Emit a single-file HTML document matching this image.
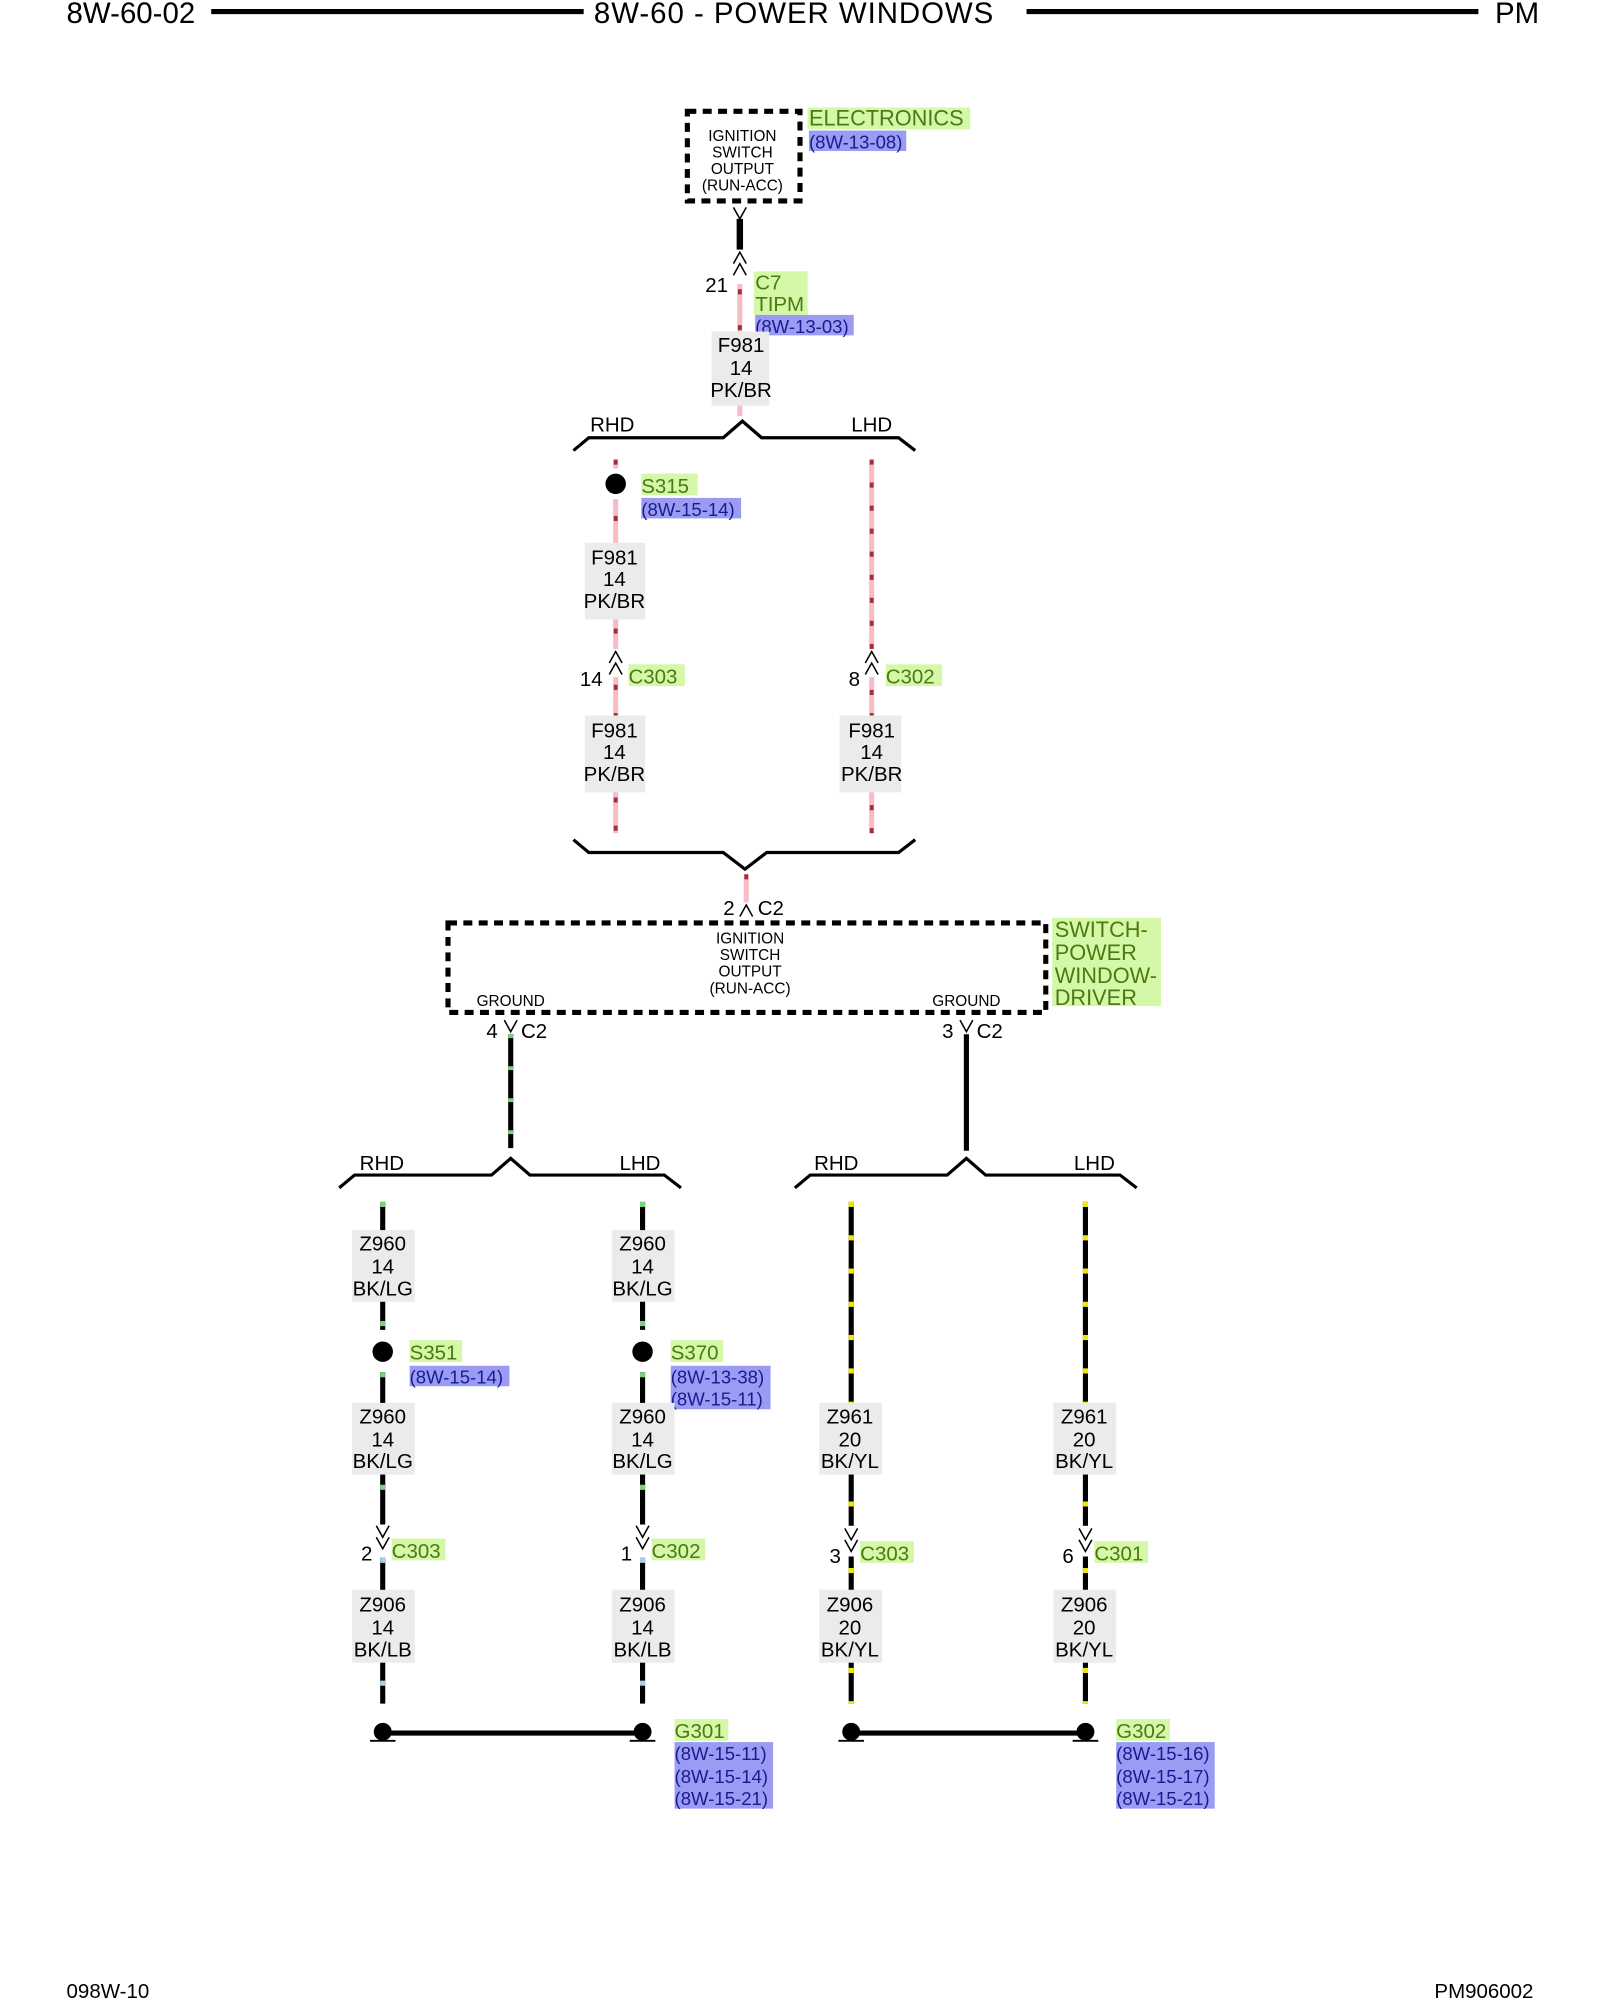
<!DOCTYPE html>
<html><head><meta charset="utf-8"><style>
html,body{margin:0;padding:0;background:#fff;}
svg{display:block;}
text{font-family:"Liberation Sans",Arial,sans-serif;}
</style></head><body>
<svg width="1600" height="2000" viewBox="0 0 1250 1562.5" xmlns="http://www.w3.org/2000/svg">
<rect width="1250" height="1563" fill="#fff"/>
<!-- header -->
<g font-size="23" fill="#000">
<text x="52" y="18">8W-60-02</text>
<text x="620" y="18" text-anchor="middle" textLength="312">8W-60 - POWER WINDOWS</text>
<text x="1168" y="18">PM</text>
</g>
<line x1="165" y1="9" x2="456" y2="9" stroke="#000" stroke-width="4"/>
<line x1="802" y1="9" x2="1155" y2="9" stroke="#000" stroke-width="4"/>

<!-- top box -->
<rect x="537" y="87" width="88" height="70" fill="none" stroke="#000" stroke-width="4" stroke-dasharray="7,5"/>
<g font-size="12" text-anchor="middle">
<text x="580" y="110">IGNITION</text><text x="580" y="123">SWITCH</text><text x="580" y="136">OUTPUT</text><text x="580" y="149">(RUN-ACC)</text>
</g>
<rect x="631" y="84" width="127" height="17" fill="#d4f8a8"/>
<text x="632" y="98" font-size="17" fill="#4a7a10">ELECTRONICS</text>
<rect x="632" y="102" width="76" height="16" fill="#9a9cf4"/>
<text x="632" y="116" font-size="14.5" fill="#1a1a90">(8W-13-08)</text>

<!-- top connector -->
<path d="M573 162 L578 171 L583 162" fill="none" stroke="#000" stroke-width="1.2"/>
<line x1="578" y1="171" x2="578" y2="195" stroke="#000" stroke-width="5"/>
<path d="M573 206 L578 197 L583 206 M573 215 L578 206 L583 215" fill="none" stroke="#000" stroke-width="1.2"/>
<text x="551" y="228" font-size="16">21</text>
<rect x="589" y="212" width="42" height="34" fill="#d4f8a8"/>
<text x="590" y="226" font-size="16" fill="#4a7a10">C7</text>
<text x="590" y="243" font-size="16" fill="#4a7a10">TIPM</text>
<rect x="590" y="246" width="77" height="16" fill="#9a9cf4"/>
<text x="590" y="260" font-size="14.5" fill="#1a1a90">(8W-13-03)</text>

<line x1="578" y1="222" x2="578" y2="325" stroke="#f7bcc6" stroke-width="4"/>
<line x1="578" y1="226" x2="578" y2="325" stroke="#a0303a" stroke-width="3" stroke-dasharray="4,24"/>
<rect x="556" y="259" width="45" height="58" fill="#ebebeb"/>
<g font-size="16" text-anchor="middle"><text x="579" y="275">F981</text><text x="579" y="293">14</text><text x="579" y="310">PK/BR</text></g>

<!-- bracket 1 -->
<path d="M448 352 L460 342 L565 342 L580 329 L595 342 L702 342 L715 352" fill="none" stroke="#000" stroke-width="2.5"/>
<text x="461" y="337" font-size="16">RHD</text><text x="665" y="337" font-size="16">LHD</text>

<line x1="481" y1="359" x2="481" y2="651" stroke="#f7bcc6" stroke-width="4"/>
<line x1="481" y1="359" x2="481" y2="651" stroke="#a0303a" stroke-width="3" stroke-dasharray="4,18"/>
<line x1="681" y1="359" x2="681" y2="651" stroke="#f7bcc6" stroke-width="4"/>
<line x1="681" y1="359" x2="681" y2="651" stroke="#a0303a" stroke-width="3" stroke-dasharray="4,14"/>
<rect x="469" y="366" width="24" height="24" fill="#fff"/>
<circle cx="481" cy="378" r="8" fill="#000"/>
<rect x="501" y="370" width="44" height="17" fill="#d4f8a8"/>
<text x="501" y="385" font-size="16" fill="#4a7a10">S315</text>
<rect x="501" y="389" width="78" height="16" fill="#9a9cf4"/>
<text x="501" y="403" font-size="14.5" fill="#1a1a90">(8W-15-14)</text>
<rect x="457" y="424" width="47" height="60" fill="#ebebeb"/>
<g font-size="16" text-anchor="middle"><text x="480" y="441">F981</text><text x="480" y="458">14</text><text x="480" y="475">PK/BR</text></g>
<rect x="475" y="507" width="12" height="22" fill="#fff"/>
<rect x="675" y="507" width="12" height="22" fill="#fff"/>
<path d="M476 518 L481 509 L486 518 M476 527 L481 518 L486 527" fill="none" stroke="#000" stroke-width="1.2"/>
<path d="M676 518 L681 509 L686 518 M676 527 L681 518 L686 527" fill="none" stroke="#000" stroke-width="1.2"/>
<text x="453" y="536" font-size="16">14</text>
<rect x="491" y="519" width="44" height="17" fill="#d4f8a8"/>
<text x="491" y="534" font-size="16" fill="#4a7a10">C303</text>
<text x="663" y="536" font-size="16">8</text>
<rect x="692" y="519" width="44" height="17" fill="#d4f8a8"/>
<text x="692" y="534" font-size="16" fill="#4a7a10">C302</text>
<rect x="457" y="559" width="47" height="60" fill="#ebebeb"/>
<g font-size="16" text-anchor="middle"><text x="480" y="576">F981</text><text x="480" y="593">14</text><text x="480" y="610">PK/BR</text></g>
<rect x="656" y="559" width="48" height="60" fill="#ebebeb"/>
<g font-size="16" text-anchor="middle"><text x="681" y="576">F981</text><text x="681" y="593">14</text><text x="681" y="610">PK/BR</text></g>

<!-- bracket 2 -->
<path d="M448 656 L460 666 L565 666 L582 679 L599 666 L702 666 L715 656" fill="none" stroke="#000" stroke-width="2.5"/>
<line x1="583" y1="683" x2="583" y2="705" stroke="#f7bcc6" stroke-width="4"/>
<line x1="583" y1="683" x2="583" y2="705" stroke="#a0303a" stroke-width="3" stroke-dasharray="4,30"/>
<path d="M578 716 L583 707 L588 716" fill="none" stroke="#000" stroke-width="1.2"/>
<text x="565" y="715" font-size="16">2</text><text x="592" y="715" font-size="16">C2</text>

<!-- switch box -->
<rect x="350" y="721" width="467" height="70" fill="none" stroke="#000" stroke-width="4" stroke-dasharray="7,5"/>
<g font-size="12" text-anchor="middle">
<text x="586" y="737">IGNITION</text><text x="586" y="750">SWITCH</text><text x="586" y="763">OUTPUT</text><text x="586" y="776">(RUN-ACC)</text>
<text x="399" y="786">GROUND</text><text x="755" y="786">GROUND</text>
</g>
<rect x="822" y="717" width="85" height="69" fill="#d4f8a8"/>
<g font-size="17" fill="#4a7a10"><text x="824" y="732">SWITCH-</text><text x="824" y="750">POWER</text><text x="824" y="768">WINDOW-</text><text x="824" y="785">DRIVER</text></g>
<path d="M394 797 L399 806 L404 797" fill="none" stroke="#000" stroke-width="1.2"/>
<path d="M750 797 L755 806 L760 797" fill="none" stroke="#000" stroke-width="1.2"/>
<text x="380" y="811" font-size="16">4</text><text x="407" y="811" font-size="16">C2</text>
<text x="736" y="811" font-size="16">3</text><text x="763" y="811" font-size="16">C2</text>
<line x1="399" y1="808" x2="399" y2="897" stroke="#000" stroke-width="4"/>
<line x1="399" y1="808" x2="399" y2="897" stroke="#7ed07e" stroke-width="4" stroke-dasharray="3,22"/>
<line x1="755" y1="808" x2="755" y2="899" stroke="#000" stroke-width="4"/>

<!-- brackets 3 -->
<path d="M265 928 L277 918 L384 918 L399 905 L414 918 L519 918 L532 928" fill="none" stroke="#000" stroke-width="2.5"/>
<path d="M621 928 L633 918 L740 918 L755 905 L770 918 L875 918 L888 928" fill="none" stroke="#000" stroke-width="2.5"/>
<g font-size="16"><text x="281" y="914">RHD</text><text x="484" y="914">LHD</text><text x="636" y="914">RHD</text><text x="839" y="914">LHD</text></g>

<g stroke-width="4">
<line x1="299" y1="939" x2="299" y2="1039" stroke="#000"/><line x1="299" y1="939" x2="299" y2="1039" stroke="#7ed07e" stroke-dasharray="4,27"/>
<line x1="502" y1="939" x2="502" y2="1039" stroke="#000"/><line x1="502" y1="939" x2="502" y2="1039" stroke="#7ed07e" stroke-dasharray="4,27"/>
<line x1="299" y1="1072" x2="299" y2="1191" stroke="#000"/><line x1="299" y1="1072" x2="299" y2="1191" stroke="#7ed07e" stroke-dasharray="4,40"/>
<line x1="502" y1="1072" x2="502" y2="1191" stroke="#000"/><line x1="502" y1="1072" x2="502" y2="1191" stroke="#7ed07e" stroke-dasharray="4,40"/>
<line x1="299" y1="1217" x2="299" y2="1331" stroke="#000"/><line x1="299" y1="1217" x2="299" y2="1331" stroke="#a8d0e0" stroke-dasharray="4,28"/>
<line x1="502" y1="1217" x2="502" y2="1331" stroke="#000"/><line x1="502" y1="1217" x2="502" y2="1331" stroke="#a8d0e0" stroke-dasharray="4,28"/>
<line x1="665" y1="939" x2="665" y2="1331" stroke="#000"/><line x1="665" y1="939" x2="665" y2="1331" stroke="#f0e800" stroke-dasharray="4,22"/>
<line x1="848" y1="939" x2="848" y2="1331" stroke="#000"/><line x1="848" y1="939" x2="848" y2="1331" stroke="#f0e800" stroke-dasharray="4,22"/>
</g>

<circle cx="299" cy="1056" r="8"/><circle cx="502" cy="1056" r="8"/>
<rect x="320" y="1047" width="41" height="17" fill="#d4f8a8"/><text x="320" y="1062" font-size="16" fill="#4a7a10">S351</text>
<rect x="320" y="1067" width="78" height="16" fill="#9a9cf4"/><text x="320" y="1081" font-size="14.5" fill="#1a1a90">(8W-15-14)</text>
<rect x="524" y="1047" width="41" height="17" fill="#d4f8a8"/><text x="524" y="1062" font-size="16" fill="#4a7a10">S370</text>
<rect x="524" y="1067" width="78" height="34" fill="#9a9cf4"/><text x="524" y="1081" font-size="14.5" fill="#1a1a90">(8W-13-38)</text><text x="524" y="1098" font-size="14.5" fill="#1a1a90">(8W-15-11)</text>

<g font-size="16" text-anchor="middle">
<rect x="275" y="961" width="49" height="56" fill="#ebebeb"/><text x="299" y="977">Z960</text><text x="299" y="995">14</text><text x="299" y="1012">BK/LG</text>
<rect x="478" y="961" width="49" height="56" fill="#ebebeb"/><text x="502" y="977">Z960</text><text x="502" y="995">14</text><text x="502" y="1012">BK/LG</text>
<rect x="275" y="1096" width="49" height="56" fill="#ebebeb"/><text x="299" y="1112">Z960</text><text x="299" y="1130">14</text><text x="299" y="1147">BK/LG</text>
<rect x="478" y="1096" width="49" height="56" fill="#ebebeb"/><text x="502" y="1112">Z960</text><text x="502" y="1130">14</text><text x="502" y="1147">BK/LG</text>
<rect x="640" y="1096" width="49" height="56" fill="#ebebeb"/><text x="664" y="1112">Z961</text><text x="664" y="1130">20</text><text x="664" y="1147">BK/YL</text>
<rect x="823" y="1096" width="49" height="56" fill="#ebebeb"/><text x="847" y="1112">Z961</text><text x="847" y="1130">20</text><text x="847" y="1147">BK/YL</text>
<rect x="275" y="1242" width="49" height="57" fill="#ebebeb"/><text x="299" y="1259">Z906</text><text x="299" y="1277">14</text><text x="299" y="1294">BK/LB</text>
<rect x="478" y="1242" width="49" height="57" fill="#ebebeb"/><text x="502" y="1259">Z906</text><text x="502" y="1277">14</text><text x="502" y="1294">BK/LB</text>
<rect x="640" y="1242" width="49" height="57" fill="#ebebeb"/><text x="664" y="1259">Z906</text><text x="664" y="1277">20</text><text x="664" y="1294">BK/YL</text>
<rect x="823" y="1242" width="49" height="57" fill="#ebebeb"/><text x="847" y="1259">Z906</text><text x="847" y="1277">20</text><text x="847" y="1294">BK/YL</text>
</g>

<g fill="#fff"><rect x="293" y="1192" width="12" height="24"/><rect x="496" y="1192" width="12" height="24"/><rect x="659" y="1192" width="12" height="24"/><rect x="842" y="1192" width="12" height="24"/></g>
<g fill="none" stroke="#000" stroke-width="1.2">
<path d="M294 1192 L299 1201 L304 1192 M294 1201 L299 1210 L304 1201"/>
<path d="M497 1192 L502 1201 L507 1192 M497 1201 L502 1210 L507 1201"/>
<path d="M660 1194 L665 1203 L670 1194 M660 1203 L665 1212 L670 1203"/>
<path d="M843 1194 L848 1203 L853 1194 M843 1203 L848 1212 L853 1203"/>
</g>
<g font-size="16">
<text x="282" y="1219">2</text><text x="485" y="1219">1</text><text x="648" y="1221">3</text><text x="830" y="1221">6</text>
</g>
<rect x="306" y="1202" width="42" height="17" fill="#d4f8a8"/><text x="306" y="1217" font-size="16" fill="#4a7a10">C303</text>
<rect x="509" y="1202" width="42" height="17" fill="#d4f8a8"/><text x="509" y="1217" font-size="16" fill="#4a7a10">C302</text>
<rect x="672" y="1204" width="42" height="17" fill="#d4f8a8"/><text x="672" y="1219" font-size="16" fill="#4a7a10">C303</text>
<rect x="855" y="1204" width="42" height="17" fill="#d4f8a8"/><text x="855" y="1219" font-size="16" fill="#4a7a10">C301</text>

<!-- grounds -->
<line x1="299" y1="1354" x2="502" y2="1354" stroke="#000" stroke-width="4"/>
<line x1="665" y1="1354" x2="848" y2="1354" stroke="#000" stroke-width="4"/>
<g>
<circle cx="299" cy="1353" r="7"/><line x1="289" y1="1360" x2="309" y2="1360" stroke="#000" stroke-width="1.5"/>
<circle cx="502" cy="1353" r="7"/><line x1="492" y1="1360" x2="512" y2="1360" stroke="#000" stroke-width="1.5"/>
<circle cx="665" cy="1353" r="7"/><line x1="655" y1="1360" x2="675" y2="1360" stroke="#000" stroke-width="1.5"/>
<circle cx="848" cy="1353" r="7"/><line x1="838" y1="1360" x2="858" y2="1360" stroke="#000" stroke-width="1.5"/>
</g>
<rect x="527" y="1343" width="42" height="17" fill="#d4f8a8"/><text x="527" y="1358" font-size="16" fill="#4a7a10">G301</text>
<rect x="527" y="1361" width="77" height="52" fill="#9a9cf4"/>
<g font-size="14.5" fill="#1a1a90"><text x="527" y="1375">(8W-15-11)</text><text x="527" y="1393">(8W-15-14)</text><text x="527" y="1410">(8W-15-21)</text></g>
<rect x="872" y="1343" width="42" height="17" fill="#d4f8a8"/><text x="872" y="1358" font-size="16" fill="#4a7a10">G302</text>
<rect x="872" y="1361" width="77" height="52" fill="#9a9cf4"/>
<g font-size="14.5" fill="#1a1a90"><text x="872" y="1375">(8W-15-16)</text><text x="872" y="1393">(8W-15-17)</text><text x="872" y="1410">(8W-15-21)</text></g>

<text x="52" y="1561" font-size="16">098W-10</text>
<text x="1198" y="1561" font-size="16" text-anchor="end">PM906002</text>
</svg>
</body></html>
